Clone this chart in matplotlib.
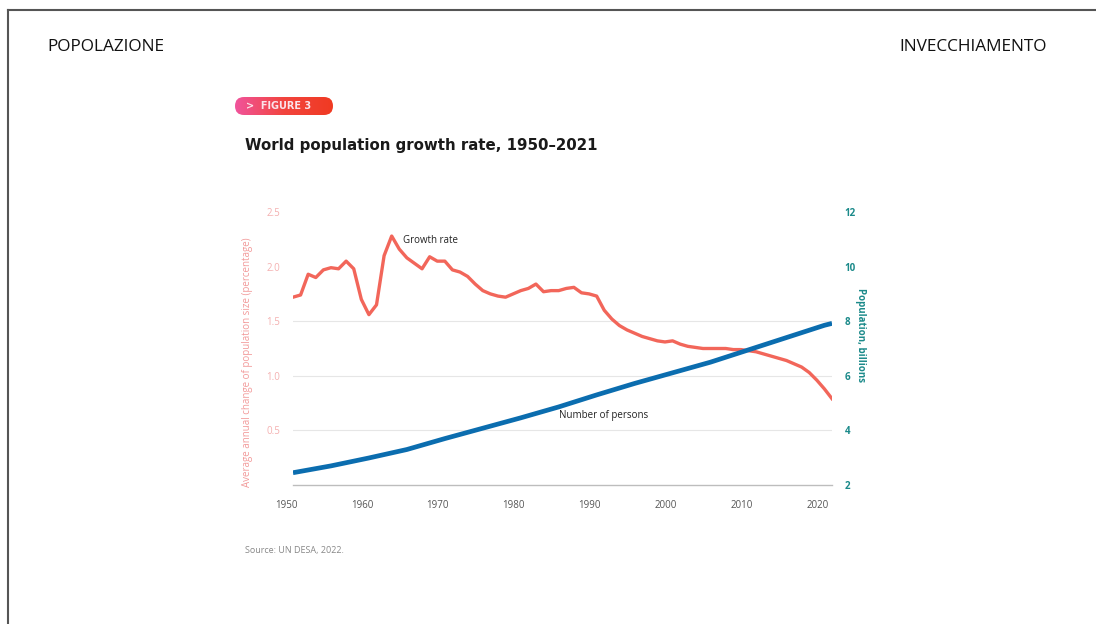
import matplotlib
matplotlib.use("Agg")
import matplotlib.pyplot as plt
import matplotlib.transforms as mtransforms
from matplotlib.patches import FancyBboxPatch
from matplotlib.colors import LinearSegmentedColormap
import numpy as np

# ---- data ----
years = list(range(1950, 2022))
growth_rate = [1.72, 1.74, 1.93, 1.90, 1.97, 1.99, 1.98, 2.05, 1.98, 1.70,
               1.56, 1.65, 2.10, 2.28, 2.16, 2.08, 2.03, 1.98, 2.09, 2.05,
               2.05, 1.97, 1.95, 1.91, 1.84, 1.78, 1.75, 1.73, 1.72, 1.75,
               1.78, 1.80, 1.84, 1.77, 1.78, 1.78, 1.80, 1.81, 1.76, 1.75,
               1.73, 1.60, 1.52, 1.46, 1.42, 1.39, 1.36, 1.34, 1.32, 1.31,
               1.32, 1.29, 1.27, 1.26, 1.25, 1.25, 1.25, 1.25, 1.24, 1.24,
               1.23, 1.22, 1.20, 1.18, 1.16, 1.14, 1.11, 1.08, 1.03, 0.96,
               0.88, 0.79]
pop_years = [1950, 1955, 1960, 1965, 1970, 1975, 1980, 1985, 1990, 1995,
             2000, 2005, 2010, 2015, 2020, 2021]
population = [2.45, 2.70, 2.99, 3.30, 3.70, 4.08, 4.46, 4.86, 5.30, 5.72,
              6.11, 6.50, 6.95, 7.40, 7.85, 7.92]
x_ticks = [1950, 1960, 1970, 1980, 1990, 2000, 2010, 2020]
left_ticks = [0.5, 1.0, 1.5, 2.0, 2.5]
right_ticks = [2, 4, 6, 8, 10, 12]

RED = "#F2665A"
BLUE = "#0B6DAF"
TEAL = "#1B8A8A"
PINK = "#F29A9A"

W, H = 1096, 624
fig = plt.figure(figsize=(W / 100, H / 100), dpi=100)
fig.patch.set_facecolor("white")

# frame lines
fig.add_artist(plt.Line2D([8 / W, 1], [1 - 10 / H, 1 - 10 / H], color="#555555", lw=1.5))
fig.add_artist(plt.Line2D([8 / W, 8 / W], [0, 1 - 10 / H], color="#555555", lw=1.5))

# header texts
fig.text(47 / W, 1 - 47 / H, "POPOLAZIONE", fontsize=12.4, family="Open Sans",
         fontweight="medium", va="center", ha="left", color="#111111")
fig.text(1047 / W, 1 - 47 / H, "INVECCHIAMENTO", fontsize=12.4, family="Open Sans",
         fontweight="medium", va="center", ha="right", color="#111111")

# badge with gradient (pill)
bx0, by0, bw, bh = 235, 97, 98, 18
badge_ax = fig.add_axes([bx0 / W, 1 - (by0 + bh) / H, bw / W, bh / H])
badge_ax.set_xlim(0, bw); badge_ax.set_ylim(0, bh); badge_ax.axis("off")
grad = np.linspace(0, 1, 256).reshape(1, -1)
cmap = LinearSegmentedColormap.from_list("g", ["#F0549C", "#F2443E", "#F03A22"])
im = badge_ax.imshow(grad, extent=[0, bw, 0, bh], aspect="auto", cmap=cmap)
patch = FancyBboxPatch((0.0, 0.0), bw, bh, boxstyle=f"round,pad=0,rounding_size={bh / 2}",
                       transform=badge_ax.transData, facecolor="none", edgecolor="none")
badge_ax.add_patch(patch)
im.set_clip_path(patch)
badge_ax.text(11, bh / 2, ">  FIGURE 3", color="#FBE3EA", fontsize=7, fontweight="bold",
              va="center", ha="left", family="DejaVu Sans")

# title
fig.text(245 / W, 1 - 145 / H, "World population growth rate, 1950\u20132021", fontsize=10.8,
         fontweight="bold", family="DejaVu Sans", va="center", ha="left", color="#1a1a1a")

# main axes
ax = fig.add_axes([293 / W, 1 - 485 / H, 539 / W, 273 / H])
ax.set_xlim(1950, 2021)
ax.set_ylim(0, 2.5)
for s in ax.spines.values():
    s.set_visible(False)
for g in [0.5, 1.0, 1.5]:
    ax.axhline(g, color="#E6E6E6", lw=0.8, zorder=0)
ax.axhline(0, color="#BDBDBD", lw=1.0, zorder=0, clip_on=False)

ax.plot(years, growth_rate, color=RED, lw=2.4, solid_joinstyle="round", zorder=3)

ax2 = ax.twinx()
ax2.set_ylim(2, 12)
for s in ax2.spines.values():
    s.set_visible(False)
ax2.plot(pop_years, population, color=BLUE, lw=3.4, solid_capstyle="butt", zorder=4)

ax.set_xticks(x_ticks)
ax.set_xticklabels([str(x) for x in x_ticks], fontsize=7, color="#555555", family="Open Sans")
ax.tick_params(axis="x", length=0, pad=11)
offset = mtransforms.ScaledTranslation(-7 / 100, 0, fig.dpi_scale_trans)
for lab in ax.get_xticklabels():
    lab.set_transform(lab.get_transform() + offset)

ax.set_yticks(left_ticks)
ax.set_yticklabels([f"{v:.1f}" for v in left_ticks], fontsize=7, color="#F4B0B0", family="Open Sans")
ax.tick_params(axis="y", length=0, pad=9)

ax2.set_yticks(right_ticks)
ax2.set_yticklabels([str(v) for v in right_ticks], fontsize=7, color=TEAL, family="Open Sans",
                    fontweight="bold")
ax2.tick_params(axis="y", length=0, pad=9)

ax.set_ylabel("Average annual change of population size (percentage)", fontsize=7,
              color=PINK, family="Open Sans", labelpad=12)
ax2.set_ylabel("Population, billions", fontsize=7, color=TEAL, family="Open Sans",
               rotation=270, labelpad=12, fontweight="bold")
ax.yaxis.set_label_coords(-40 / 539, 0.45)
ax2.yaxis.set_label_coords(1 + 34 / 539, 0.55)

ax.text(1964.5, 2.24, "Growth rate", fontsize=7, color="#222222", family="Open Sans",
        va="center", ha="left")
ax.text(1985, 0.64, "Number of persons", fontsize=7, color="#222222", family="Open Sans",
        va="center", ha="left")

fig.text(245 / W, 1 - 550 / H, "Source: UN DESA, 2022.", fontsize=6.5, color="#888888",
         family="Open Sans", va="center", ha="left")

fig.savefig("out.png", dpi=100)
